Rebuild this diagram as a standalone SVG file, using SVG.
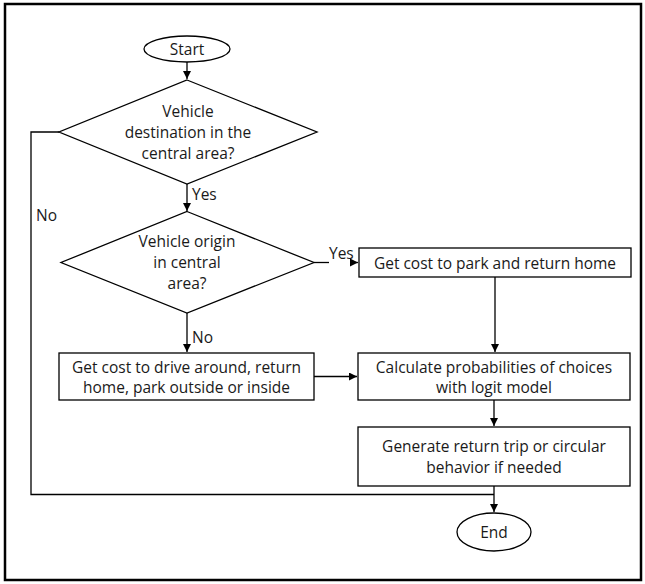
<svg xmlns="http://www.w3.org/2000/svg" width="645" height="584" viewBox="0 0 645 584">
<defs>
<marker id="ah" viewBox="0 0 10 10" refX="10" refY="5" markerWidth="8" markerHeight="8" markerUnits="userSpaceOnUse" orient="auto">
<path d="M0,0 L10,5 L0,10 z" fill="#000"/>
</marker>
<style>
.n{fill:#fff;stroke:#000;stroke-width:1.3}
.t{font-family:"Open Sans","Noto Sans",sans-serif;font-size:15.5px;fill:#1a1a1a;text-anchor:middle;dominant-baseline:central}
.l{font-family:"Open Sans","Noto Sans",sans-serif;font-size:15.5px;fill:#1a1a1a;dominant-baseline:central}
.c{fill:none;stroke:#000;stroke-width:1.3}
</style>
</defs>
<rect x="0" y="0" width="645" height="584" fill="#fff"/>
<rect x="5" y="4" width="636" height="576" fill="none" stroke="#000" stroke-width="2.5"/>
<g id="connectors">
<path class="c" d="M187,62 V79" marker-end="url(#ah)"/>
<path class="c" d="M187,184 V211" marker-end="url(#ah)"/>
<path class="c" d="M314,262.5 H329"/>
<path class="c" d="M350,262.5 H358" marker-end="url(#ah)"/>
<path class="c" d="M187,313 V352" marker-end="url(#ah)"/>
<path class="c" d="M495,277 V352" marker-end="url(#ah)"/>
<path class="c" d="M314,376.5 H357" marker-end="url(#ah)"/>
<path class="c" d="M494,400 V426" marker-end="url(#ah)"/>
<path class="c" d="M59,132 H31 V494.5 H494"/>
<path class="c" d="M494,486 V512" marker-end="url(#ah)"/>
<text class="l" x="192" y="194">Yes</text>
<text class="l" x="329" y="253">Yes</text>
<text class="l" x="192" y="337">No</text>
<text class="l" x="36" y="215">No</text>
</g>
<g id="start">
<ellipse class="n" cx="187" cy="49" rx="43" ry="13"/>
<text class="t" x="187" y="49">Start</text>
</g>
<g id="dest">
<path class="n" d="M187,80 L317,132 L187,184 L59,132 z"/>
<text class="t" x="188" y="111">Vehicle</text>
<text class="t" x="188" y="132">destination in the</text>
<text class="t" x="188" y="153">central area?</text>
</g>
<g id="origin">
<path class="n" d="M187,211.5 L314,262.5 L187,313 L61,262.5 z"/>
<text class="t" x="187" y="241">Vehicle origin</text>
<text class="t" x="187" y="262">in central</text>
<text class="t" x="187" y="283">area?</text>
</g>
<g id="park">
<rect class="n" x="359" y="248" width="272" height="29"/>
<text class="t" x="495" y="262.5">Get cost to park and return home</text>
</g>
<g id="drive">
<rect class="n" x="59" y="353" width="255" height="47"/>
<text class="t" x="186.5" y="367">Get cost to drive around, return</text>
<text class="t" x="186.5" y="387">home, park outside or inside</text>
</g>
<g id="calc">
<rect class="n" x="358" y="353" width="272" height="47"/>
<text class="t" x="494" y="366.5">Calculate probabilities of choices</text>
<text class="t" x="494" y="386.5">with logit model</text>
</g>
<g id="generate">
<rect class="n" x="358" y="427" width="272" height="59"/>
<text class="t" x="494" y="446">Generate return trip or circular</text>
<text class="t" x="494" y="467">behavior if needed</text>
</g>
<g id="end">
<ellipse class="n" cx="494" cy="532" rx="37" ry="19"/>
<text class="t" x="494" y="532">End</text>
</g>
</svg>
